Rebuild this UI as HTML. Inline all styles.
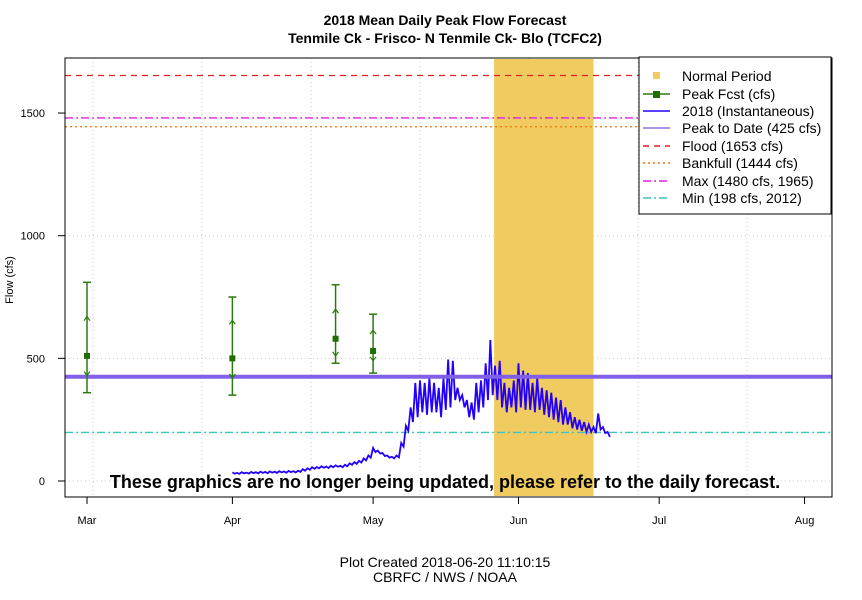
<!DOCTYPE html>
<html><head><meta charset="utf-8"><style>
body{margin:0;background:#fff}
svg{display:block;font-family:"Liberation Sans",sans-serif}
</style></head><body>
<svg id="c" width="862" height="600" viewBox="0 0 862 600" xmlns="http://www.w3.org/2000/svg">
<rect width="862" height="600" fill="#fff"/>
<text x="445" y="25" text-anchor="middle" font-size="14" font-weight="bold">2018 Mean Daily Peak Flow Forecast</text>
<text x="445" y="43" text-anchor="middle" font-size="14" font-weight="bold">Tenmile Ck - Frisco- N Tenmile Ck- Blo (TCFC2)</text>
<text transform="translate(13,280) rotate(-90)" text-anchor="middle" font-size="11">Flow (cfs)</text>
<g id="grid"></g><g id="marks"></g><g id="axes"></g>
<rect x="65" y="58" width="767" height="439" fill="none" stroke="#000"/>
<text x="445" y="488" text-anchor="middle" font-size="18" font-weight="bold">These graphics are no longer being updated, please refer to the daily forecast.</text>
<g>
<rect x="639" y="57" width="192" height="157" fill="#fff" stroke="#000"/>
<rect x="653" y="72" width="7" height="7" fill="#f0cc60"/>
<line x1="643" x2="670" y1="94" y2="94" stroke="#2a7a10" stroke-width="1.5"/><rect x="653" y="91" width="7" height="7" fill="#1e6e00"/>
<line x1="643" x2="670" y1="111" y2="111" stroke="#2200ff" stroke-width="1.5"/>
<line x1="643" x2="670" y1="128" y2="128" stroke="#9070e0" stroke-width="1.5"/>
<line x1="643" x2="670" y1="146" y2="146" stroke="#e02020" stroke-width="1.5" stroke-dasharray="6,5"/>
<line x1="643" x2="670" y1="163" y2="163" stroke="#ff7000" stroke-width="1.5" stroke-dasharray="2,3"/>
<line x1="643" x2="670" y1="181" y2="181" stroke="#e020e0" stroke-width="1.5" stroke-dasharray="8,3,2,3"/>
<line x1="643" x2="670" y1="198" y2="198" stroke="#40c0c0" stroke-width="1.5" stroke-dasharray="8,3,2,3"/>
<g font-size="14">
<text x="682" y="81">Normal Period</text><text x="682" y="99">Peak Fcst (cfs)</text>
<text x="682" y="116">2018  (Instantaneous)</text><text x="682" y="133">Peak to Date (425 cfs)</text>
<text x="682" y="151">Flood (1653 cfs)</text><text x="682" y="168">Bankfull (1444 cfs)</text>
<text x="682" y="186">Max (1480 cfs, 1965)</text><text x="682" y="203">Min (198 cfs, 2012)</text>
</g></g>
<text x="445" y="567" text-anchor="middle" font-size="14">Plot Created 2018-06-20 11:10:15</text>
<text x="445" y="582" text-anchor="middle" font-size="14">CBRFC / NWS / NOAA</text>
</svg>
<script>
const yTicks=[0,500,1000,1500];
const monthLabels=["Mar","Apr","May","Jun","Jul","Aug"];
const monthDays=[0,31,61,92,122,153];
const fcstDays=[0,31,53,61];
const fcstMean=[510,500,580,530];
const fcstHigh=[810,750,800,680];
const fcstLow=[360,350,480,440];
const fcstUp=[670,655,700,615];
const fcstDown=[430,420,510,490];
const normalStart=87, normalEnd=108;
const refLevels=[1653,1444,1480,198,425];
const flowStartDay=31;
const flowHigh=[35,33,36,34,37,36,38,37,39,38,40,39,41,40,42,48,52,56,57,60,59,62,64,62,66,72,77,82,92,104,135,124,114,104,99,104,155,225,300,400,410,400,420,400,380,420,495,490,380,350,330,320,400,410,480,575,470,490,400,380,410,480,450,440,400,420,380,370,360,340,330,300,280,260,250,240,230,220,275,220,200];
const flowLow=[30,29,31,30,32,31,33,32,34,33,35,34,36,35,37,42,46,50,52,54,53,56,58,56,60,66,70,75,84,95,118,112,102,95,92,96,140,205,240,260,280,270,280,280,260,290,300,330,330,300,260,250,280,300,330,350,330,300,280,300,280,300,290,290,280,290,270,260,250,240,230,230,215,210,205,200,200,195,210,195,180];
const X=d=>87+4.69*d, Y=v=>481-v*0.2453;
const NS="http://www.w3.org/2000/svg";
function mk(p,t,a){const e=document.createElementNS(NS,t);for(const k in a)e.setAttribute(k,a[k]);document.getElementById(p).appendChild(e);return e;}
[93,202,311,420,529,638,747].forEach(x=>{const l=mk('grid','line',{x1:x,x2:x,y1:58,y2:497,stroke:'#ccc','stroke-dasharray':'1,3'});

});
yTicks.forEach(v=>{const l=mk('grid','line',{x1:65,x2:832,y1:Y(v),y2:Y(v),stroke:'#ccc','stroke-dasharray':'1,3'});


const t=mk('axes','line',{x1:58,x2:65,y1:Y(v),y2:Y(v),stroke:'#000'});


const s=mk('axes','text',{x:45,y:Y(v)+4,'text-anchor':'end','font-size':11});s.textContent=v;

});
monthDays.forEach((d,i)=>{const t=mk('axes','line',{x1:X(d),x2:X(d),y1:497,y2:504,stroke:'#000'});


const s=mk('axes','text',{x:X(d),y:524,'text-anchor':'middle','font-size':11});s.textContent=monthLabels[i];

});
const np=mk('marks','rect',{x:X(normalStart-0.2),y:59,width:X(normalEnd)-X(normalStart-0.2),height:437,fill:'#f0cc60'});


const styles=[['#e02020','6,5','flood-line'],['#ff7000','2,3','bankfull-line'],['#e020e0','8,3,2,3','max-line'],['#40c0c0','8,3,2,3','min-line']];
styles.forEach((s,i)=>{const l=mk('marks','line',{x1:65,x2:832,y1:Y(refLevels[i]),y2:Y(refLevels[i]),stroke:s[0],'stroke-width':1.3,'stroke-dasharray':s[1]});

});
let pts=[];flowHigh.forEach((h,i)=>{const d=flowStartDay+i;pts.push(X(d)+','+Y(h));pts.push(X(d+0.5)+','+Y(flowLow[i]));});
const fl=mk('marks','polyline',{points:pts.join(' '),fill:'none',stroke:'#2200ff','stroke-width':1.8});


const pk=mk('marks','line',{x1:65,x2:832,y1:Y(refLevels[4]),y2:Y(refLevels[4]),stroke:'#8060e8','stroke-width':4});


fcstDays.forEach((d,i)=>{const x=X(d),g='#2a7a10';
const e=mk('marks','line',{x1:x,x2:x,y1:Y(fcstHigh[i]),y2:Y(fcstLow[i]),stroke:g,'stroke-width':1.5});


[fcstHigh[i],fcstLow[i]].forEach(v=>{mk('marks','line',{x1:x-4,x2:x+4,y1:Y(v),y2:Y(v),stroke:g,'stroke-width':1.5});});
const u=Y(fcstUp[i]),dn=Y(fcstDown[i]);
mk('marks','polyline',{points:`${x-3},${u+4} ${x},${u} ${x+3},${u+4}`,fill:'none',stroke:g,'stroke-width':1.2});
mk('marks','polyline',{points:`${x-3},${dn-4} ${x},${dn} ${x+3},${dn-4}`,fill:'none',stroke:g,'stroke-width':1.2});
const m=mk('marks','rect',{x:x-3,y:Y(fcstMean[i])-3,width:6,height:6,fill:'#1e6e00'});

});
</script>
</body></html>
